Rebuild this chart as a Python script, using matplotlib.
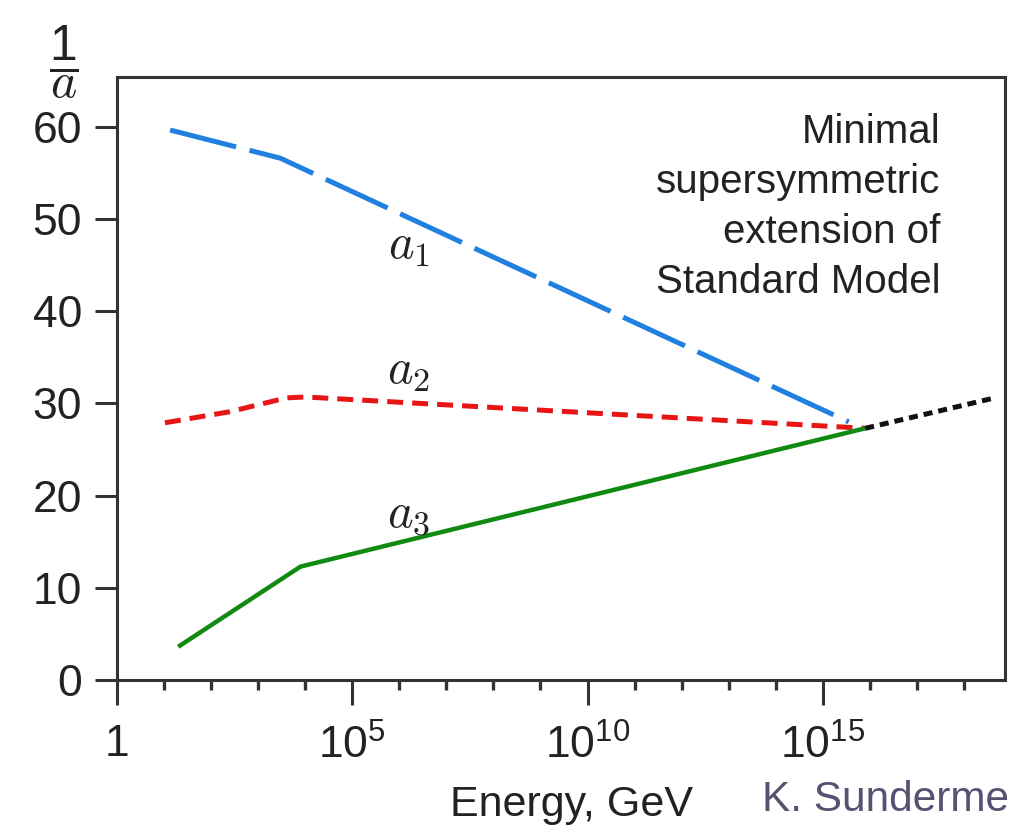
import matplotlib
matplotlib.use("Agg")
import matplotlib.pyplot as plt
import numpy as np

plt.rcParams['font.family'] = ['Liberation Sans', 'DejaVu Sans']
plt.rcParams['lines.scale_dashes'] = False

# log10(Energy/GeV) and 1/alpha values
a1_logE = [1.13, 3.47, 15.55]
a1_val = [59.65, 56.6, 28.0]
a2_logE = [1.02, 2.4, 3.6, 4.0, 15.9]
a2_val = [27.9, 29.1, 30.6, 30.7, 27.3]
a3_logE = [1.30, 3.9, 15.9]
a3_val = [3.6, 12.3, 27.3]
ext_logE = [15.9, 18.57]
ext_val = [27.3, 30.5]

xtick_exp = [0, 5, 10, 15]
xtick_labels = ['1', r'$\mathregular{10^{5}}$', r'$\mathregular{10^{10}}$', r'$\mathregular{10^{15}}$']
yticks = [0, 10, 20, 30, 40, 50, 60]

fig = plt.figure(figsize=(10.1, 8.3), dpi=100)
ax = fig.add_axes([0.1158, 0.1807, 0.8792, 0.7265])

ax.plot(10.0 ** np.array(a1_logE), a1_val, color='#1f80e0', lw=3.6,
        dashes=(49, 10), solid_capstyle='butt', dash_capstyle='butt')
ax.plot(10.0 ** np.array(a2_logE), a2_val, color='#e81515', lw=3.6,
        dashes=(11.5, 6.5), dash_capstyle='butt')
ax.plot(10.0 ** np.array(a3_logE), a3_val, color='#108a10', lw=3.2,
        solid_capstyle='butt')
ax.plot(10.0 ** np.array(ext_logE), ext_val, color='#111111', lw=3.6,
        dashes=(6.5, 4.3), dash_capstyle='butt')

ax.set_xscale('log')
ax.set_xlim(1, 10 ** 18.87)
ax.set_ylim(0, 65.4)

ax.set_xticks([10.0 ** e for e in xtick_exp])
ax.set_xticklabels(xtick_labels)
ax.set_xticks([10.0 ** e for e in range(1, 19) if e not in xtick_exp], minor=True)
ax.xaxis.set_minor_formatter(matplotlib.ticker.NullFormatter())
ax.set_yticks(yticks)
ax.set_yticklabels([str(v) for v in yticks])
ax.yaxis.set_minor_locator(matplotlib.ticker.NullLocator())

for s in ax.spines.values():
    s.set_linewidth(2.2)
    s.set_color('#333333')
ax.tick_params(axis='both', which='major', direction='out', width=2.2,
               color='#333333', labelsize=32, labelcolor='#222222')
ax.tick_params(axis='x', which='major', length=18, pad=14)
ax.tick_params(axis='y', which='major', length=16, pad=9)
ax.tick_params(axis='x', which='minor', direction='out', length=7, width=2.4,
               color='#333333')

# curve labels
for txt, yv in [(r'$a_{\mathsf{1}}$', 47), (r'$a_{\mathsf{2}}$', 33.5), (r'$a_{\mathsf{3}}$', 18.0)]:
    ax.text(10 ** 6.2, yv, txt, fontsize=35, math_fontfamily='cm', color='#222222',
            ha='center', va='center')

ax.text(10 ** 17.5, 61.5,
        'Minimal\nsupersymmetric\nextension of\nStandard Model',
        fontsize=29, ha='right', va='top', color='#222222', linespacing=1.4)

# y axis label as a fraction 1/a
fig.text(64 / 1010, 1 - 62 / 830, r'$\dfrac{\mathregular{1}}{a}$', fontsize=36,
         math_fontfamily='cm', ha='center', va='center', color='#222222')

fig.text(572 / 1010, 1 - 805 / 830, 'Energy, GeV', fontsize=31,
         ha='center', va='center', color='#222222')
fig.text(762 / 1010, 1 - 800 / 830, 'K. Sunderme', fontsize=30.5,
         ha='left', va='center', color='#5a5072')

fig.savefig('out.png', dpi=100)
